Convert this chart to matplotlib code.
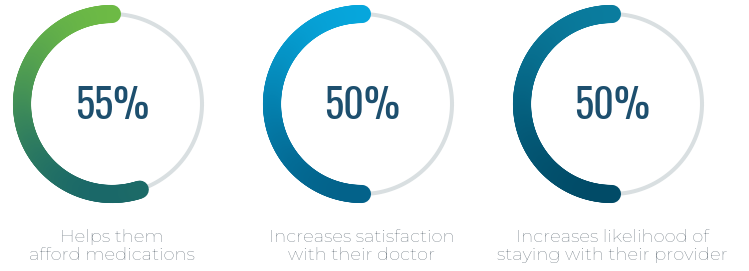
import numpy as np
import matplotlib.pyplot as plt
from matplotlib.collections import LineCollection
from matplotlib.colors import to_rgb

# data
values = [55, 50, 50]
value_labels = ['55%', '50%', '50%']
captions = ['Helps them\nafford medications',
            'Increases satisfaction\nwith their doctor',
            'Increases likelihood of\nstaying with their provider']
top_colors = ['#6dba45', '#06a6dc', '#0a7c9e']
bottom_colors = ['#1a6868', '#03628a', '#014b67']

centers_x = [112, 362, 612]
center_y = 104
radius = 90

fig = plt.figure(figsize=(7.49, 2.71), dpi=100)
ax = fig.add_axes([0, 0, 1, 1])
ax.set_xlim(0, 749)
ax.set_ylim(271, 0)
ax.set_aspect('equal')
ax.axis('off')

for cx, val, vlab, cap, c_top, c_bot in zip(centers_x, values, value_labels,
                                            captions, top_colors, bottom_colors):
    # grey track
    t = np.linspace(0, 2 * np.pi, 300)
    ax.plot(cx + radius * np.cos(t), center_y - radius * np.sin(t),
            color='#d9dfe1', lw=2.9, zorder=1)

    # gradient arc from 12 o'clock going counter-clockwise
    ang = np.radians(np.linspace(90, 90 + val / 100 * 360, 200))
    xs = cx + radius * np.cos(ang)
    ys = center_y - radius * np.sin(ang)
    pts = np.column_stack([xs, ys]).reshape(-1, 1, 2)
    segs = np.concatenate([pts[:-1], pts[1:]], axis=1)
    ymid = (ys[:-1] + ys[1:]) / 2
    f = np.clip((ymid - (center_y - radius)) / (2 * radius), 0, 1)[:, None]
    cols = (1 - f) * np.array(to_rgb(c_top)) + f * np.array(to_rgb(c_bot))
    lc = LineCollection(segs, colors=cols, linewidths=13, capstyle='round', zorder=2)
    ax.add_collection(lc)

    ax.text(cx, center_y + 2, vlab, ha='center', va='center',
            fontsize=29, color='#1d4f6e', family='Oswald', zorder=3)
    ax.text(cx, 246, cap, ha='center', va='center', fontsize=13,
            color='#5a6670', family='Montserrat', fontweight='normal',
            linespacing=1.2)

fig.savefig('out.png', dpi=100)
